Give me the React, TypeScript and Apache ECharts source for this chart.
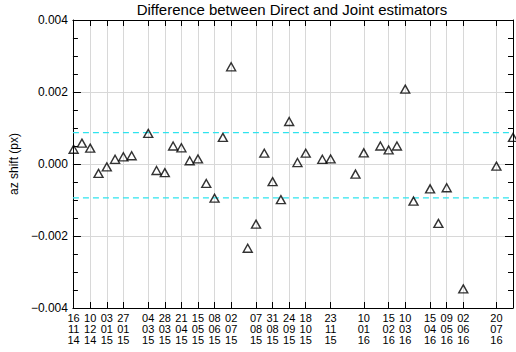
import React, { useEffect, useRef } from "react";
import * as echarts from "echarts";

const title = "Difference between Direct and Joint estimators";
const yName = "az shift (px)";

const dates = [
  "2014-11-16", "2014-11-28", "2014-12-10", "2014-12-22", "2015-01-03", "2015-01-15",
  "2015-01-27", "2015-02-08", "2015-03-04", "2015-03-16", "2015-03-28", "2015-04-09",
  "2015-04-21", "2015-05-03", "2015-05-15", "2015-05-27", "2015-06-08", "2015-06-20",
  "2015-07-02", "2015-07-26", "2015-08-07", "2015-08-19", "2015-08-31", "2015-09-12",
  "2015-09-24", "2015-10-06", "2015-10-18", "2015-11-11", "2015-11-23", "2015-12-29",
  "2016-01-10", "2016-02-03", "2016-02-15", "2016-02-27", "2016-03-10", "2016-03-22",
  "2016-04-15", "2016-04-27", "2016-05-09", "2016-06-02", "2016-07-20", "2016-08-13",
];

const values = [
  0.00041, 0.00058, 0.00044, -0.00026, -0.00008, 0.00013,
  0.0002, 0.00023, 0.00085, -0.00018, -0.00024, 0.0005,
  0.00045, 0.00009, 0.00014, -0.00054, -0.00095, 0.00074,
  0.0027, -0.00234, -0.00167, 0.0003, -0.00049, -0.00099,
  0.00118, 0.00004, 0.0003, 0.00013, 0.00014, -0.00028,
  0.00031, 0.0005, 0.00039, 0.0005, 0.00208, -0.00103,
  -0.00069, -0.00165, -0.00066, -0.00347, -0.00006, 0.00074,
];

const labelDates = [
  "2014-11-16", "2014-12-10", "2015-01-03", "2015-01-27", "2015-03-04", "2015-03-28",
  "2015-04-21", "2015-05-15", "2015-06-08", "2015-07-02", "2015-08-07", "2015-08-31",
  "2015-09-24", "2015-10-18", "2015-11-23", "2016-01-10", "2016-02-15", "2016-03-10",
  "2016-04-15", "2016-05-09", "2016-06-02", "2016-07-20",
];

const bandValues = [0.00087, -0.00094];

const xMinDate = "2014-11-15";
const xMaxDate = "2016-08-13";
const yTicks = [-0.004, -0.002, 0, 0.002, 0.004];

const toTs = (s: string) => {
  const [y, m, d] = s.split("-").map(Number);
  return Date.UTC(y, m - 1, d);
};
const pad = (n: number) => (n < 10 ? "0" + n : "" + n);
const fmtDate = (v: number) => {
  const d = new Date(v);
  return pad(d.getUTCDate()) + "\n" + pad(d.getUTCMonth() + 1) + "\n" + pad(d.getUTCFullYear() % 100);
};
const fmtY = (v: number) => {
  const a = Math.abs(v);
  if (a < 1e-9) return "0.000";
  return (v < 0 ? "\u2212" : "") + a.toFixed(3);
};

const FONT = "Liberation Sans";

export default function App() {
  const ref = useRef<HTMLDivElement>(null);
  useEffect(() => {
    if (!ref.current) return;
    const chart = echarts.init(ref.current, undefined, { renderer: "svg" });
    const labelTs = labelDates.map(toTs);
    const xMin = toTs(xMinDate);
    const xMax = toTs(xMaxDate);
    const axisLine = { show: true, onZero: false, lineStyle: { color: "#000", width: 1 } };
    const xCommon = {
      type: "value" as const,
      min: xMin,
      max: xMax,
      axisLine,
      axisTick: { show: true, inside: true, length: 6, customValues: labelTs, lineStyle: { color: "#000" } },
    };
    const yCommon = {
      type: "value" as const,
      min: -0.004,
      max: 0.004,
      interval: 0.002,
      axisLine,
      axisTick: { show: true, inside: true, length: 8, lineStyle: { color: "#000" } },
      minorTick: { show: true, splitNumber: 4, length: 5, lineStyle: { color: "#000" } },
    };
    chart.setOption({
      animation: false,
      backgroundColor: "#fff",
      textStyle: { fontFamily: FONT },
      title: {
        text: title,
        left: 292,
        textAlign: "center",
        top: 2,
        padding: 0,
        textStyle: { fontFamily: FONT, fontSize: 15, fontWeight: "normal", color: "#000" },
      },
      grid: { left: 71, right: 3, top: 20, bottom: 44, containLabel: false },
      xAxis: [
        {
          ...xCommon,
          position: "bottom",
          axisLabel: {
            show: true,
            customValues: labelTs,
            formatter: (v: number) => fmtDate(v),
            color: "#000",
            fontFamily: FONT,
            fontSize: 11,
            lineHeight: 11,
            margin: 4,
          },
          splitLine: { show: true, lineStyle: { color: "#d8d8d8", width: 1 } },
        },
        {
          ...xCommon,
          position: "top",
          axisLabel: { show: false },
          splitLine: { show: false },
        },
      ],
      yAxis: [
        {
          ...yCommon,
          position: "left",
          name: yName,
          nameLocation: "middle",
          nameRotate: 90,
          nameGap: 46,
          nameTextStyle: { fontFamily: FONT, fontSize: 12, color: "#000" },
          axisLabel: {
            show: true,
            customValues: yTicks,
            formatter: (v: number) => fmtY(v),
            color: "#000",
            fontFamily: FONT,
            fontSize: 12,
            margin: 5,
          },
          splitLine: { show: true, lineStyle: { color: "#d8d8d8", width: 1 } },
        },
        {
          ...yCommon,
          position: "right",
          axisLabel: { show: false },
          splitLine: { show: false },
        },
      ],
      series: [
        ...bandValues.map((v) => ({
          type: "line",
          xAxisIndex: 0,
          yAxisIndex: 0,
          data: [[xMin, v], [xMax, v]],
          showSymbol: false,
          symbol: "none",
          silent: true,
          lineStyle: { color: "#2fe4ee", type: [6, 4], width: 1.3 },
          z: 1,
        })),
        {
          type: "scatter",
          xAxisIndex: 0,
          yAxisIndex: 0,
          data: dates.map((d, i) => [toTs(d), values[i]]),
          symbol: "triangle",
          symbolSize: [9, 8],
          itemStyle: { color: "transparent", borderColor: "#000", borderWidth: 1.4 },
          clip: false,
          z: 3,
        },
      ],
    });
    return () => chart.dispose();
  }, []);
  return <div ref={ref} style={{ position: "fixed", left: 0, top: 0, width: 516, height: 352 }} />;
}
